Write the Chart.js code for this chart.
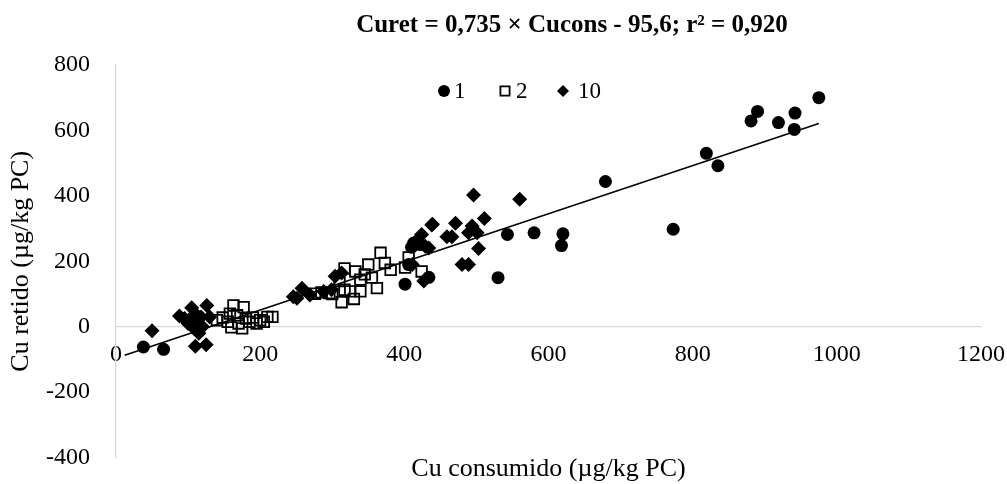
<!DOCTYPE html>
<html>
<head>
<meta charset="utf-8">
<script src="https://cdn.jsdelivr.net/npm/chart.js@4.4.0/dist/chart.umd.min.js"></script>
<style>
  html, body { margin: 0; padding: 0; background: #fff; overflow: hidden; }
  /* a little wider/taller than the window: the x axis sits at y = 0 but
     chart.js still keeps room for it at the bottom and right */
  #wrap { width: 1019px; height: 498px; position: relative; }
</style>
</head>
<body>
<div id="wrap"><canvas id="chart"></canvas></div>
<script>
// values
const dose1X = [38, 66, 100, 401, 406, 410, 413, 422, 434, 530, 543, 580, 620, 618, 679, 773, 819, 835, 881, 890, 919, 942, 941, 975];
const dose1Y = [-62, -69, 20, 130, 190, 243, 256, 251, 151, 150, 282, 287, 284, 248, 444, 298, 530, 492, 629, 658, 624, 653, 603, 700];

const dose2X = [140, 148, 155, 160, 163, 168, 170, 175, 177, 180, 185, 190, 195, 200, 205, 210, 217, 158,
                276, 285, 296, 300, 313, 330, 325, 339, 317, 362, 339, 310, 355, 345, 317, 332, 350, 367, 373, 381, 401, 406, 424];
const dose2Y = [20, 28, 15, -2, 65, 35, 10, -5, 60, 25, 15, 28, 10, 20, 15, 30, 30, 40,
                101, 105, 103, 100, 75, 85, 108, 108, 113, 118, 144, 140, 150, 160, 178, 169, 190, 226, 195, 174, 181, 212, 169];

const dose10X = [50, 88, 95, 100, 105, 108, 110, 112, 115, 118, 120, 126, 110, 125, 130,
                 246, 251, 258, 269, 288, 299, 304, 313, 411, 418, 424, 427, 429, 434, 438, 439,
                 459, 466, 471, 480, 489, 489, 494, 496, 501, 503, 511, 560];
const dose10Y = [-12, 33, 25, 10, 58, -5, 40, 15, -20, 30, 0, 65, -60, -55, 30,
                 92, 87, 118, 97, 108, 113, 154, 164, 190, 265, 282, 140, 246, 241, 311, 313,
                 275, 275, 316, 190, 190, 287, 308, 403, 287, 239, 331, 390];

const trendX = [12, 975];
const trendY = [-87, 621];

const xTicks = [0, 200, 400, 600, 800, 1000, 1200];
const yTicks = [-400, -200, 0, 200, 400, 600, 800];

const legendNames = ['1', '2', '10'];
const titleText = 'Curet = 0,735 × Cucons - 95,6; r² = 0,920';
const xTitle = 'Cu consumido (µg/kg PC)';
const yTitle = 'Cu retido (µg/kg PC)';

const serif = '"Liberation Serif", "Times New Roman", serif';

function toPoints(xs, ys) {
    return xs.map((x, i) => ({ x: x, y: ys[i] }));
}

// equation on top, x axis title and the little legend inside the plot
const headerPlugin = {
    id: 'header',
    afterDraw(chart) {
        const ctx = chart.ctx;
        const area = chart.chartArea;
        ctx.save();
        ctx.fillStyle = '#000';
        ctx.textBaseline = 'middle';
        ctx.textAlign = 'center';
        ctx.font = 'bold 25px ' + serif;
        ctx.fillText(titleText, 572, 26);

        ctx.font = '26px ' + serif;
        ctx.fillText(xTitle, (area.left + area.right) / 2, 469);

        const markX = [444, 505, 563];
        const textX = [454, 516, 578];
        ctx.font = '23px ' + serif;
        ctx.textAlign = 'left';
        for (let i = 0; i < 3; i++) {
            const ds = chart.data.datasets[i];
            ctx.fillStyle = ds.backgroundColor;
            ctx.strokeStyle = ds.borderColor;
            ctx.lineWidth = ds.borderWidth;
            Chart.helpers.drawPoint(ctx, {
                pointStyle: ds.pointStyle,
                radius: i == 1 ? 6.5 : 6,
                borderWidth: ds.borderWidth,
                rotation: 0
            }, markX[i], 91);
            ctx.fillStyle = '#000';
            ctx.fillText(legendNames[i], textX[i], 92);
        }
        ctx.restore();
    }
};

const config = {
    type: 'scatter',
    data: {
        datasets: [{
            label: legendNames[0],
            data: toPoints(dose1X, dose1Y),
            pointStyle: 'circle',
            pointRadius: 6.5,
            pointHoverRadius: 6.5,
            backgroundColor: '#000',
            borderColor: '#000',
            borderWidth: 0
        }, {
            label: legendNames[1],
            data: toPoints(dose2X, dose2Y),
            pointStyle: 'rect',
            pointRadius: 7.5,
            pointHoverRadius: 7.5,
            backgroundColor: 'rgba(255,255,255,0)',
            borderColor: '#000',
            borderWidth: 1.8
        }, {
            label: legendNames[2],
            data: toPoints(dose10X, dose10Y),
            pointStyle: 'rectRot',
            pointRadius: 7.5,
            pointHoverRadius: 7.5,
            backgroundColor: '#000',
            borderColor: '#000',
            borderWidth: 0
        }, {
            label: 'trend',
            data: toPoints(trendX, trendY),
            showLine: true,
            pointRadius: 0,
            borderColor: '#000',
            borderWidth: 1.6,
            backgroundColor: '#000'
        }]
    },
    options: {
        responsive: true,
        maintainAspectRatio: false,
        animation: false,
        layout: { padding: { top: 65, right: 0, left: 0, bottom: 0 } },
        plugins: {
            legend: { display: false },
            tooltip: { enabled: false },
            title: { display: false }
        },
        scales: {
            x: {
                type: 'linear',
                min: 0,
                max: 1200,
                position: { y: 0 },
                afterBuildTicks: (scale) => { scale.ticks = xTicks.map(v => ({ value: v })); },
                afterFit: (scale) => { scale.height = 0; },
                grid: { display: false, drawTicks: false },
                border: { display: true, color: '#d9d9d9', width: 1.3 },
                ticks: {
                    color: '#000',
                    padding: 14,
                    font: { family: serif, size: 24 },
                    callback: (v) => String(v)
                }
            },
            y: {
                type: 'linear',
                min: -400,
                max: 800,
                position: 'left',
                afterBuildTicks: (scale) => { scale.ticks = yTicks.map(v => ({ value: v })); },
                afterFit: (scale) => { scale.width = 116; },
                grid: { display: false, drawTicks: false },
                border: { display: true, color: '#d9d9d9', width: 1.3 },
                ticks: {
                    color: '#000',
                    padding: 26,
                    font: { family: serif, size: 24 },
                    callback: (v) => String(v)
                },
                title: {
                    display: true,
                    text: yTitle,
                    color: '#000',
                    font: { family: serif, size: 26 },
                    padding: { top: 6, bottom: 0 }
                }
            }
        }
    },
    plugins: [headerPlugin]
};

new Chart(document.getElementById('chart'), config);
</script>
</body>
</html>
